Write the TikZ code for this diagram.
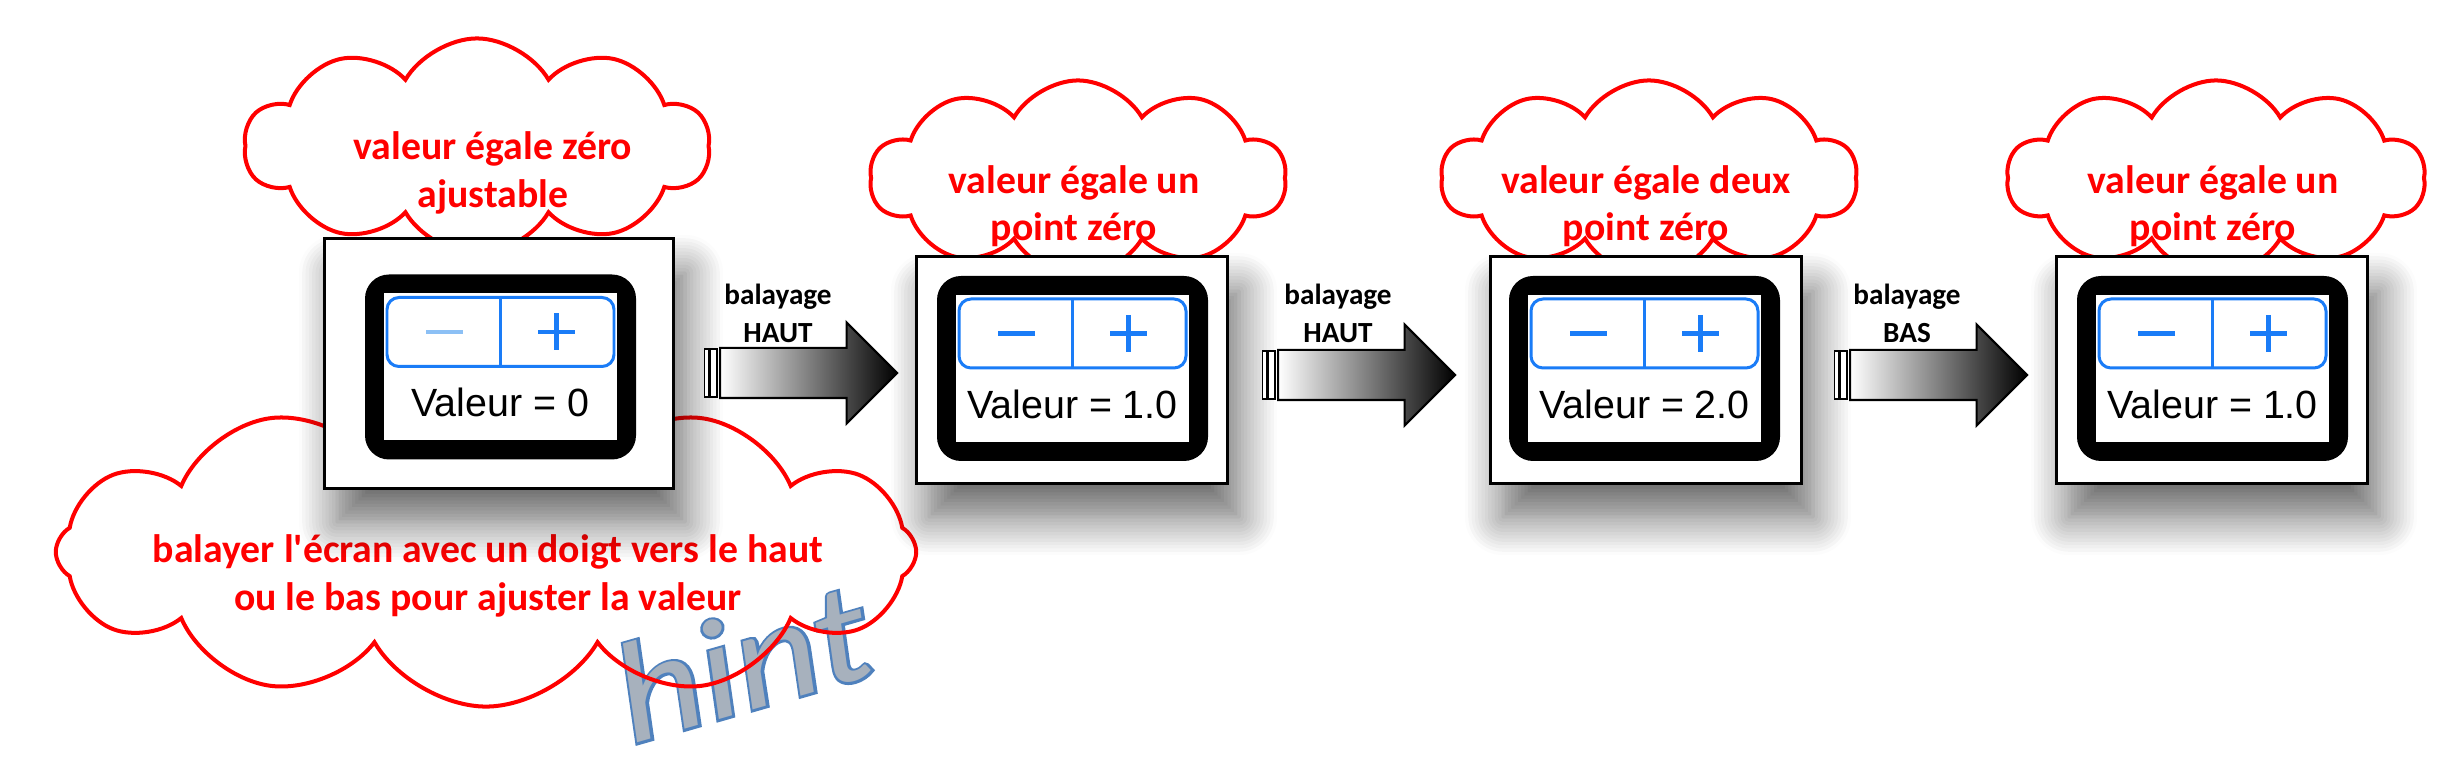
\documentclass[tikz,border=0pt]{standalone}
\usepackage{fontspec}
\usetikzlibrary{shapes.symbols,shapes.arrows,shadows.blur,calc}
\newfontfamily\calibri{Carlito}
\newfontfamily\ecranfont{Liberation Sans}
\newfontfamily\hintface{Carlito Italic}
\newfontfamily\hintfond{Carlito Italic}[FakeBold=3.5]
\definecolor{bleuios}{RGB}{26,124,247}
\definecolor{bleuclair}{RGB}{140,192,245}
\definecolor{gristexte}{RGB}{167,177,189}
\definecolor{bleucontour}{RGB}{79,129,189}

\tikzset{
  nuage/.style={cloud, draw=red, line width=1.14pt, cloud puffs=10, cloud puff arc=120, cloud ignores aspect, inner sep=0pt},
  bulle/.style={text=red, font=\calibri\bfseries\fontsize{11.3}{13.5}\selectfont, align=center},
  cadre/.style={draw=black, line width=0.85pt, fill=white, inner sep=0pt,
    blur shadow={shadow xshift=0.12cm, shadow yshift=-0.34cm, shadow blur radius=0.38cm, shadow blur steps=12, shadow opacity=60}},
  fleche/.style={single arrow, draw=black, line width=0.6pt, left color=white, right color=black,
    single arrow head extend=0.255cm, single arrow tip angle=90, inner xsep=0pt, inner ysep=0.24cm,
    minimum height=1.77cm, anchor=tail},
  rayure/.style={draw=black, line width=0.5pt, fill=white},
  etiquette/.style={font=\calibri\bfseries\fontsize{8.3}{10.8}\selectfont, align=center},
  bouton/.style={draw=bleuios, line width=0.85pt},
  signe/.style={draw=bleuios, line width=1.15pt},
  valeur/.style={font=\ecranfont\fontsize{11.2}{13}\selectfont, anchor=base, inner sep=0pt},
  astuce/.style={rotate=16, xscale=1.14, inner sep=0pt},
  pics/ecran/.style 2 args={code={
    \fill[black, rounded corners=0.24cm] (-135.5,-92.5) rectangle (135.5,92.5);
    \fill[white] (-116.5,-73.5) rectangle (116.5,73.5);
    \draw[bouton, rounded corners=0.12cm] (-113.5,-69.5) rectangle (113.5,-0.5);
    \draw[bouton] (0,-69.5) -- (0,-0.5);
    \draw[signe, draw=#2] (-74.5,-35) -- (-37.5,-35);
    \draw[signe] (56,-53.5) -- (56,-16.5) (37.5,-35) -- (74.5,-35);
    \node[valeur] at (0,50) {Valeur = #1};
  }}
}

\begin{document}
\begin{tikzpicture}[x=0.01cm, y=-0.01cm]
    \useasboundingbox (0,0) rectangle (2462,774);
    % hint
    \node[astuce, text=bleucontour, font=\hintfond\fontsize{40.5}{41}\selectfont] (hint0) at (742,662) {hint};
    \node[astuce, text=gristexte, font=\hintface\fontsize{40.5}{41}\selectfont] (hint) at (742,662) {hint};
    % nuages
    \node[nuage, minimum width=8.6cm, minimum height=3.09cm, cloud puffs=12] (n0) at (486,552) {};
    \node[nuage, minimum width=4.65cm, minimum height=2.15cm] (n1) at (477,146) {};
    \node[nuage, minimum width=4.16cm, minimum height=1.95cm] (n2) at (1078,178) {};
    \node[nuage, minimum width=4.16cm, minimum height=1.95cm] (n3) at (1649,178) {};
    \node[nuage, minimum width=4.18cm, minimum height=1.95cm] (n4) at (2216,178) {};
    \node[bulle] (t0) at (488,576) {balayer l\textquotesingle écran avec un doigt vers le haut\\ou le bas pour ajuster la valeur};
    \node[bulle] (t1) at (493,173) {valeur égale zéro\\ajustable};
    \node[bulle] (t2) at (1074,206) {valeur égale un\\point zéro};
    \node[bulle] (t3) at (1646,206) {valeur égale deux\\point zéro};
    \node[bulle] (t4) at (2213,206) {valeur égale un\\point zéro};
    % cadres
    \node[cadre, minimum width=3.48cm, minimum height=2.49cm] (c1) at (499,363.5) {};
    \node[cadre, minimum width=3.10cm, minimum height=2.26cm] (c2) at (1072,370) {};
    \node[cadre, minimum width=3.10cm, minimum height=2.26cm] (c3) at (1646,370) {};
    \node[cadre, minimum width=3.10cm, minimum height=2.26cm] (c4) at (2212,370) {};
    \pic at (500.5,367) {ecran={0}{bleuclair}};
    \pic at (1072.5,368.5) {ecran={1.0}{bleuios}};
    \pic at (1644.5,368.5) {ecran={2.0}{bleuios}};
    \pic at (2212.5,368.5) {ecran={1.0}{bleuios}};
    % fleches
    \node[fleche] (a1) at (719,373) {};
    \node[fleche] (a2) at (1277,375) {};
    \node[fleche] (a3) at (1849,375) {};
    \draw[rayure] ($(a1.tail)+(-14.5,-24)$) rectangle ++(4.5,48);
    \draw[rayure] ($(a1.tail)+(-8.7,-24)$) rectangle ++(6.9,48);
    \draw[rayure] ($(a2.tail)+(-14.5,-24)$) rectangle ++(4.5,48);
    \draw[rayure] ($(a2.tail)+(-8.7,-24)$) rectangle ++(6.9,48);
    \draw[rayure] ($(a3.tail)+(-14.5,-24)$) rectangle ++(4.5,48);
    \draw[rayure] ($(a3.tail)+(-8.7,-24)$) rectangle ++(6.9,48);
    \node[etiquette] (l1) at (778,313) {balayage\\HAUT};
    \node[etiquette] (l2) at (1338,313) {balayage\\HAUT};
    \node[etiquette] (l3) at (1907,313) {balayage\\BAS};
\end{tikzpicture}
\end{document}
